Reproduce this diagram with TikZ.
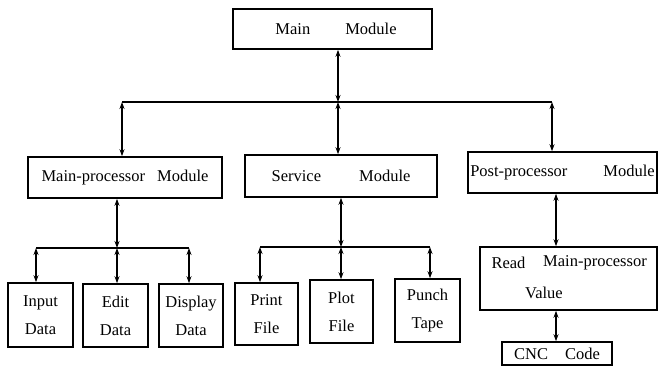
\documentclass[tikz,border=0pt]{standalone}
\usepackage{fontspec}
\setmainfont{Liberation Serif}
\usetikzlibrary{arrows.meta}
\begin{document}
\begin{tikzpicture}[x=1pt,y=-1pt,
 box/.style={draw,line width=1.6pt,inner sep=0pt,align=center,font=\fontsize{16.5}{28}\selectfont},
 txt/.style={inner sep=0pt,font=\fontsize{16.5}{28}\selectfont},
 conn/.style={line width=1.3pt},
 arr/.style={conn,{Stealth[length=7pt,width=5pt]}-{Stealth[length=7pt,width=5pt]}}]
\useasboundingbox[fill=white] (0,0) rectangle (658,368);
% boxes
\node[box,minimum width=199pt,minimum height=40pt] (main) at (332.5,29) {\hspace*{7pt}Main\hspace{35pt}Module};
\node[box,minimum width=194pt,minimum height=41pt] (mp) at (125,177.5) {Main-processor\hspace{12pt}Module};
\node[box,minimum width=192pt,minimum height=42pt] (sv) at (341,176) {Service\hspace{38pt}Module};
\node[box,minimum width=189pt,minimum height=41pt] (pp) at (562.5,172.5) {Post-processor\hspace{36pt}Module};
\node[box,minimum width=177pt,minimum height=63pt] (rd) at (568.5,278.5) {};
\node[txt] (rd1) at (508.5,263) {Read};
\node[txt] (rd2) at (595,263) {Main-processor};
\node[txt] (rd3) at (544,293) {Value};
\node[box,minimum width=110pt,minimum height=23pt] (cnc) at (557,353.5) {CNC\hspace{17pt}Code};
\node[box,minimum width=65pt,minimum height=64pt] (inp) at (40.5,315) {Input\\Data};
\node[box,minimum width=65pt,minimum height=63pt] (edt) at (115.5,315.5) {Edit\\Data};
\node[box,minimum width=64pt,minimum height=63pt] (dsp) at (191,315.5) {Display\\Data};
\node[box,minimum width=63pt,minimum height=62pt] (prt) at (266.5,314) {Print\\File};
\node[box,minimum width=63pt,minimum height=63pt] (plt) at (341.5,311.5) {Plot\\File};
\node[box,minimum width=65pt,minimum height=63pt] (pun) at (427.5,310.5) {Punch\\Tape};
% top level bus
\coordinate (bL) at (122,102);
\coordinate (bM) at (338,102);
\coordinate (bR) at (552,102);
\draw[conn] (bL) -- (bR);
\draw[arr] (bM |- main.south) -- (bM);
\draw[arr] (bM) -- (bM |- sv.north);
\draw[arr] (bL) -- (bL |- mp.north);
\draw[arr] (bR) -- (bR |- pp.north);
% main-processor bus
\coordinate (mL) at (36,248);
\coordinate (mM) at (117,248);
\coordinate (mR) at (189,248);
\draw[conn] (mL) -- (mR);
\draw[arr] (mM |- mp.south) -- (mM);
\draw[arr] (mL) -- (mL |- inp.north);
\draw[arr] (mM) -- (mM |- edt.north);
\draw[arr] (mR) -- (mR |- dsp.north);
% service bus
\coordinate (sL) at (260,247);
\coordinate (sM) at (341,247);
\coordinate (sR) at (430,247);
\draw[conn] (sL) -- (sR);
\draw[arr] (sM |- sv.south) -- (sM);
\draw[arr] (sL) -- (sL |- prt.north);
\draw[arr] (sM) -- (sM |- plt.north);
\draw[arr] (sR) -- (sR |- pun.north);
% post-processor chain
\coordinate (pX) at (556,0);
\draw[arr] (pX |- pp.south) -- (pX |- rd.north);
\draw[arr] (pX |- rd.south) -- (pX |- cnc.north);
\end{tikzpicture}
\end{document}
